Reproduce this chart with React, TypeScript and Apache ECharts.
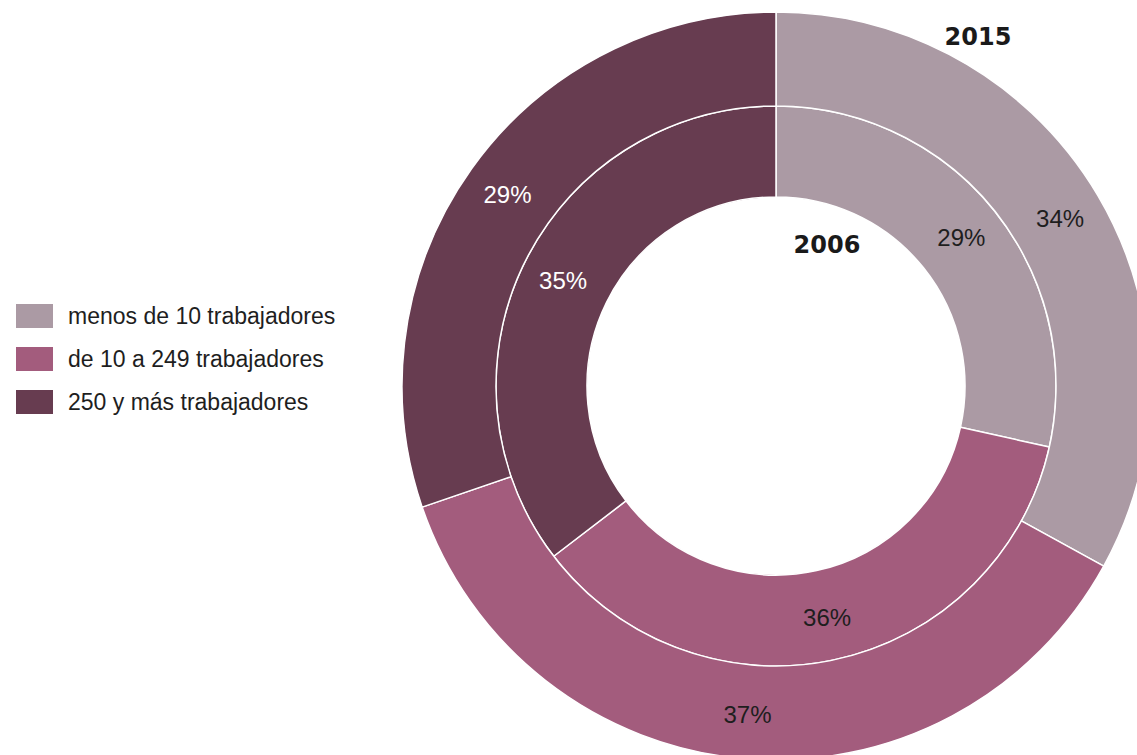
import React, { useEffect, useRef } from "react";
import * as echarts from "echarts";

const categories = ["menos de 10 trabajadores", "de 10 a 249 trabajadores", "250 y más trabajadores"];
const colors = ["#AB9AA4", "#A35C7D", "#673C50"];
// 2015 (outer ring) – slice shares as drawn, and printed labels
const values2015 = [33.0, 36.75, 30.25];
const labels2015 = ["34%", "37%", "29%"];
// 2006 (inner ring)
const values2006 = [28.5, 36.1, 35.4];
const labels2006 = ["29%", "36%", "35%"];
const labelColors = ["#1e1e1e", "#1e1e1e", "#ffffff"];

export default function App() {
  const ref = useRef<HTMLDivElement>(null);
  useEffect(() => {
    const chart = echarts.init(ref.current!, null, { renderer: "svg" });
    const mk = (vals: number[], labs: string[]) =>
      vals.map((v, i) => ({
        name: categories[i],
        value: v,
        itemStyle: { color: colors[i] },
        label: { color: labelColors[i], formatter: labs[i] },
      }));
    chart.setOption({
      animation: false,
      legend: {
        orient: "vertical",
        left: 14,
        top: 302,
        padding: 0,
        itemWidth: 39,
        itemHeight: 26,
        itemGap: 15,
        icon: "rect",
        data: categories,
        selectedMode: false,
        textStyle: {
          fontFamily: "Liberation Sans",
          fontSize: 23,
          lineHeight: 26,
          color: "#1e1e1e",
          padding: [0, 0, 0, 9],
        },
      },
      graphic: [
        {
          type: "text",
          x: 978,
          y: 37,
          style: {
            text: "2015",
            font: "bold 24px 'DejaVu Sans'",
            fill: "#1a1a1a",
            align: "center",
            verticalAlign: "middle",
          },
        },
        {
          type: "text",
          x: 827,
          y: 245,
          style: {
            text: "2006",
            font: "bold 24px 'DejaVu Sans'",
            fill: "#1a1a1a",
            align: "center",
            verticalAlign: "middle",
          },
        },
      ],
      series: [
        {
          type: "pie",
          name: "2006",
          center: [776, 386],
          radius: [189, 280],
          startAngle: 90,
          clockwise: true,
          itemStyle: { borderColor: "#ffffff", borderWidth: 1.5 },
          label: { show: true, position: "inside", fontFamily: "Liberation Sans", fontSize: 24 },
          labelLine: { show: false },
          emphasis: { disabled: true },
          data: mk(values2006, labels2006),
        },
        {
          type: "pie",
          name: "2015",
          center: [776, 386],
          radius: [280, 374],
          startAngle: 90,
          clockwise: true,
          itemStyle: { borderColor: "#ffffff", borderWidth: 1.5 },
          label: { show: true, position: "inside", fontFamily: "Liberation Sans", fontSize: 24 },
          labelLine: { show: false },
          emphasis: { disabled: true },
          data: mk(values2015, labels2015),
        },
      ],
    });
    return () => chart.dispose();
  }, []);
  return (
    <div
      ref={ref}
      style={{ position: "fixed", left: 0, top: 0, width: 1137, height: 755, background: "#fff" }}
    />
  );
}
